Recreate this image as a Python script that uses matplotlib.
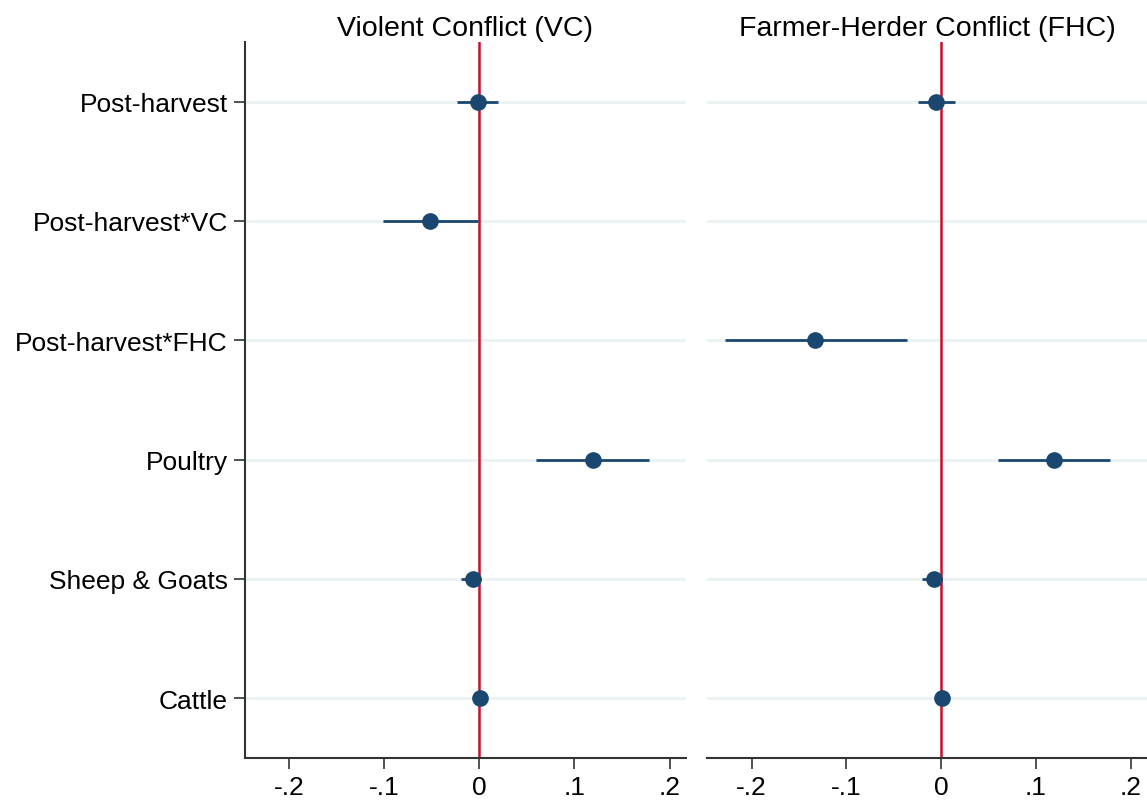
import matplotlib.pyplot as plt
import numpy as np

# Coefficient plot: two models side by side

labels = ['Post-harvest', 'Post-harvest*VC', 'Post-harvest*FHC',
          'Poultry', 'Sheep & Goats', 'Cattle']

# Violent Conflict (VC) model (None = not in model)
vc_coef = [-0.002, -0.052, None, 0.119, -0.007, 0.001]
vc_lo = [-0.024, -0.101, None, 0.060, -0.019, -0.002]
vc_hi = [0.020, -0.002, None, 0.178, 0.002, 0.004]

# Farmer-Herder Conflict (FHC) model
fhc_coef = [-0.006, None, -0.133, 0.119, -0.008, 0.001]
fhc_lo = [-0.025, None, -0.228, 0.060, -0.020, -0.002]
fhc_hi = [0.015, None, -0.036, 0.178, 0.001, 0.004]

xticks = [-0.2, -0.1, 0, 0.1, 0.2]
xticklabels = ['-.2', '-.1', '0', '.1', '.2']

navy = '#1a476f'
red = '#c8102e'
grid_c = '#eaf2f3'

plt.rcParams['font.family'] = ['Liberation Sans', 'DejaVu Sans']

fig = plt.figure(figsize=(11.47, 8.03), dpi=100)
ax1 = fig.add_axes([0.2133, 0.0548, 0.3845, 0.8917])
ax2 = fig.add_axes([0.6164, 0.0548, 0.3836, 0.8917])

ypos = np.arange(len(labels))[::-1] + 1


def draw(ax, coef, lo, hi, title):
    for y in ypos:
        ax.axhline(y, color=grid_c, lw=2, zorder=0)
    ax.axvline(0, color=red, lw=1.8, zorder=1)
    for y, c, l, h in zip(ypos, coef, lo, hi):
        if c is None:
            continue
        ax.plot([l, h], [y, y], color=navy, lw=2, solid_capstyle='butt', zorder=2)
        ax.plot(c, y, 'o', color=navy, markersize=11, zorder=3)
    ax.set_xlim(-0.247, 0.217)
    ax.set_ylim(0.5, 6.5)
    ax.set_xticks(xticks)
    ax.set_xticklabels(xticklabels, fontsize=19)
    ax.set_title(title, fontsize=20.5, pad=5)
    for s in ['top', 'right']:
        ax.spines[s].set_visible(False)
    ax.spines['bottom'].set_color('#333333')
    ax.spines['left'].set_color('#333333')
    ax.spines['bottom'].set_linewidth(1.5)
    ax.spines['left'].set_linewidth(1.5)
    ax.tick_params(axis='x', length=8, width=1.2, color='#333333', pad=4)
    ax.tick_params(axis='y', length=8, width=1.2, color='#333333', pad=4)


draw(ax1, vc_coef, vc_lo, vc_hi, 'Violent Conflict (VC)')
draw(ax2, fhc_coef, fhc_lo, fhc_hi, 'Farmer-Herder Conflict (FHC)')

ax1.set_yticks(ypos)
ax1.set_yticklabels(labels, fontsize=19)
ax2.set_yticks([])
ax2.spines['left'].set_visible(False)

fig.savefig('out.png', dpi=100)
